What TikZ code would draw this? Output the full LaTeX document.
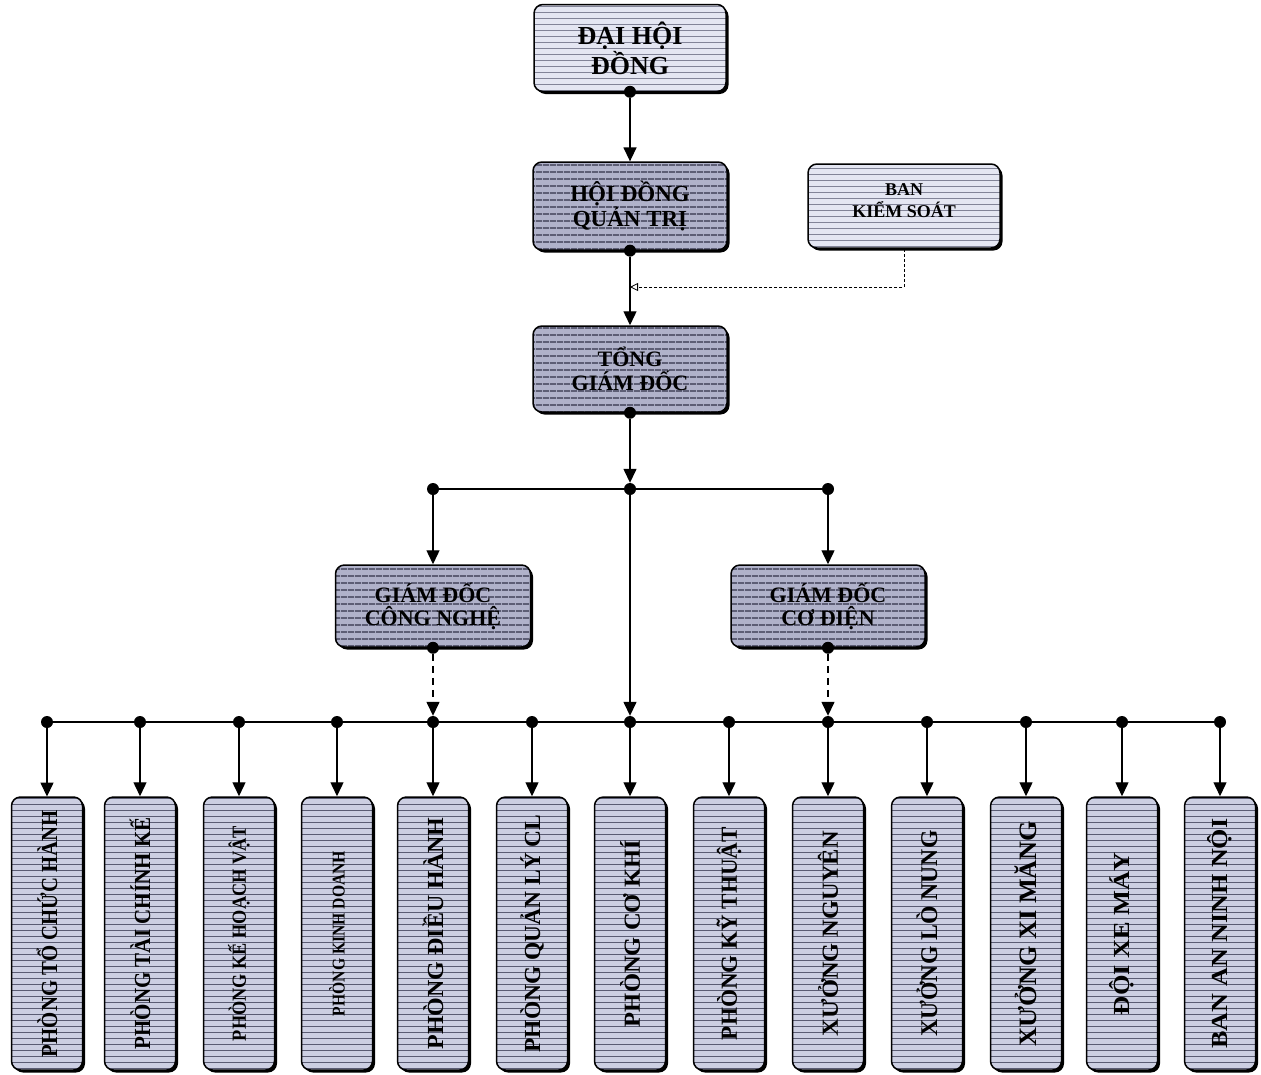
\documentclass[tikz,border=0pt]{standalone}
\usepackage{fontspec}
\setmainfont{Liberation Serif}
\usepackage{graphicx}
\usetikzlibrary{arrows.meta,shadows,patterns.meta}
\definecolor{fillL}{RGB}{228,230,242}
\definecolor{lineL}{RGB}{130,132,152}
\definecolor{fillM}{RGB}{204,207,226}
\definecolor{lineM}{RGB}{90,92,115}
\definecolor{fillD}{RGB}{176,178,202}
\definecolor{lineD}{RGB}{50,50,72}
\newcommand\vlabel[3]{\rotatebox{90}{\resizebox{#1pt}{\height}{\fontsize{#2}{#2}\selectfont #3}}}
\tikzset{
 orgbox/.style={rounded corners=9pt, draw=black, line width=1.5pt, inner sep=0pt, align=center, font=\bfseries,
   drop shadow={shadow xshift=2.5pt, shadow yshift=-2.5pt, fill=black, opacity=1}},
 boxL/.style={orgbox, preaction={fill=fillL}, pattern={Lines[angle=0,distance=6pt,line width=0.6pt]}, pattern color=lineL},
 boxM/.style={orgbox, preaction={fill=fillM}, pattern={Lines[angle=0,distance=6pt,line width=0.9pt]}, pattern color=lineM},
 boxD/.style={orgbox, preaction={fill=fillD}, pattern={Lines[angle=0,distance=6.5pt,line width=1.3pt]}, pattern color=lineD},
 unit/.style={boxM, minimum width=71pt, minimum height=273pt},
 dot/.style={circle, fill=black, inner sep=0pt, minimum size=12pt},
 conn/.style={line width=1.4pt, -{Triangle[length=14pt,width=13pt]}},
 plain/.style={line width=1.4pt},
 dconn/.style={conn, dash pattern=on 7pt off 5pt},
 kconn/.style={line width=0.8pt, dash pattern=on 3pt off 2pt, -{Triangle[open,length=8pt,width=8pt]}},
}
\begin{document}
\begin{tikzpicture}[x=1pt,y=-1pt]
\useasboundingbox (0,0) rectangle (1261,1074);
\fill[white] (0,0) rectangle (1261,1074);

% upper boxes
\node[boxL, minimum width=192pt, minimum height=87pt, font=\bfseries\fontsize{26}{30}\selectfont] (dhd) at (630,48) {ĐẠI HỘI\\ĐỒNG};
\node[boxD, minimum width=194pt, minimum height=88pt, font=\bfseries\fontsize{23}{21}\selectfont] (hdqt) at (630,206) {HỘI ĐỒNG\\QUẢN TRỊ};
\node[boxL, minimum width=192pt, minimum height=84pt, font=\bfseries\fontsize{18}{22}\selectfont] (bks) at (904,206) {BAN\\KIỂM SOÁT\\[-12pt]};
\node[boxD, minimum width=194pt, minimum height=86pt, font=\bfseries\fontsize{22}{24}\selectfont] (tgd) at (630,369) {TỔNG\\GIÁM ĐỐC};
\node[boxD, minimum width=195pt, minimum height=82pt, font=\bfseries\fontsize{22}{23}\selectfont] (gdcn) at (433,606) {GIÁM ĐỐC\\CÔNG NGHỆ};
\node[boxD, minimum width=194pt, minimum height=82pt, font=\bfseries\fontsize{22}{23}\selectfont] (gdcd) at (828,606) {GIÁM ĐỐC\\CƠ ĐIỆN};

% bottom units
\node[unit] (u1) at (47,933.5) {\vlabel{247}{23}{PHÒNG TỔ CHỨC HÀNH}};
\node[unit] (u2) at (140,933.5) {\vlabel{232}{23}{PHÒNG TÀI CHÍNH KẾ}};
\node[unit] (u3) at (239,933.5) {\vlabel{215}{20}{PHÒNG KẾ HOẠCH VẬT}};
\node[unit] (u4) at (337,933.5) {\vlabel{165}{18}{PHÒNG KINH DOANH}};
\node[unit] (u5) at (433,933.5) {\vlabel{232}{23}{PHÒNG ĐIỀU HÀNH}};
\node[unit] (u6) at (532,933.5) {\vlabel{238}{23}{PHÒNG QUẢN LÝ CL}};
\node[unit] (u7) at (630,933.5) {\vlabel{187}{23}{PHÒNG CƠ KHÍ}};
\node[unit] (u8) at (729,933.5) {\vlabel{213}{23}{PHÒNG KỸ THUẬT}};
\node[unit] (u9) at (828,933.5) {\vlabel{205}{23}{XƯỞNG NGUYÊN}};
\node[unit] (u10) at (927,933.5) {\vlabel{206}{24}{XƯỞNG LÒ NUNG}};
\node[unit] (u11) at (1026,933.5) {\vlabel{226}{25}{XƯỞNG XI MĂNG}};
\node[unit] (u12) at (1122,933.5) {\vlabel{163}{23}{ĐỘI XE MÁY}};
\node[unit] (u13) at (1220,933.5) {\vlabel{230}{23}{BAN AN NINH NỘI}};

% dots
\node[dot] (s1) at (dhd.south) {};
\node[dot] (s2) at (hdqt.south) {};
\node[dot] (s3) at (tgd.south) {};
\node[dot] (s4) at (gdcn.south) {};
\node[dot] (s5) at (gdcd.south) {};
\node[dot] (j0) at (630,489) {};
\node[dot] (j1) at (433,489) {};
\node[dot] (j2) at (828,489) {};
\foreach \i/\x in {1/47,2/140,3/239,4/337,5/433,6/532,7/630,8/729,9/828,10/927,11/1026,12/1122,13/1220}
  \node[dot] (b\i) at (\x,722) {};
\coordinate (k) at (630,287);

% connectors
\draw[conn] (s1) -- (hdqt);
\draw[conn] (s2) -- (tgd);
\draw[kconn] (bks.south) |- (k);
\draw[conn] (s3) -- (j0);
\draw[plain] (j1) -- (j2);
\draw[conn] (j1) -- (gdcn);
\draw[conn] (j2) -- (gdcd);
\draw[conn] (j0) -- (b7);
\draw[dconn] (s4) -- (b5);
\draw[dconn] (s5) -- (b9);
\draw[plain] (b1) -- (b13);
\foreach \i in {1,...,13}
  \draw[conn] (b\i) -- (u\i);
\end{tikzpicture}
\end{document}
